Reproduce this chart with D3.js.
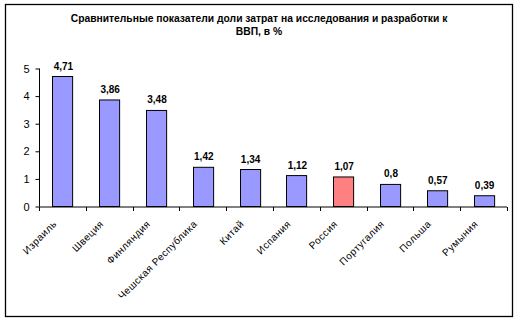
<!DOCTYPE html>
<html>
<head>
<meta charset="utf-8">
<script src="https://cdn.jsdelivr.net/npm/d3@7"></script>
<style>
  html, body { margin: 0; padding: 0; background: #fff; }
  svg { display: block; font-family: "Liberation Sans", Arial, sans-serif; }
</style>
</head>
<body>
<svg id="chart" width="520" height="322"></svg>
<script>
// R&D spending as a share of GDP, %
const countries = ["Израиль", "Швеция", "Финляндия", "Чешская Республика", "Китай",
                   "Испания", "Россия", "Португалия", "Польша", "Румыния"];
const values = [4.71, 3.86, 3.48, 1.42, 1.34, 1.12, 1.07, 0.8, 0.57, 0.39];
const valueLabels = ["4,71", "3,86", "3,48", "1,42", "1,34", "1,12", "1,07", "0,8", "0,57", "0,39"];
const yTicks = [0, 1, 2, 3, 4, 5];
const highlighted = "Россия";
const titleLines = ["Сравнительные показатели доли затрат на исследования и разработки к", "ВВП, в %"];

const svg = d3.select("#chart");

// outer frame
svg.append("rect")
  .attr("x", 5.5).attr("y", 4.5)
  .attr("width", 507).attr("height", 312)
  .attr("fill", "#fff").attr("stroke", "#000").attr("stroke-width", 1.3);

// title
svg.append("g").selectAll("text")
  .data(titleLines)
  .join("text")
  .attr("x", 259).attr("y", (d, i) => 21.5 + i * 13)
  .attr("text-anchor", "middle")
  .attr("font-size", 10.3).attr("font-weight", "bold")
  .attr("fill", "#000")
  .text(d => d);

const x = d3.scaleBand()
  .domain(countries)
  .range([39, 507])
  .paddingInner(0.57)
  .paddingOuter(0.285);

const y = d3.scaleLinear()
  .domain([0, 5])
  .range([206.5, 68.5]);

// bars
svg.append("g").selectAll("rect")
  .data(countries)
  .join("rect")
  .attr("x", d => Math.round(x(d)) + 0.5)
  .attr("y", (d, i) => y(values[i]))
  .attr("width", x.bandwidth())
  .attr("height", (d, i) => y(0) - y(values[i]))
  .attr("fill", d => d === highlighted ? "#FF8080" : "#9999FF")
  .attr("stroke", "#000").attr("stroke-width", 1);

// value labels
svg.append("g").selectAll("text")
  .data(countries)
  .join("text")
  .attr("x", d => x(d) + x.bandwidth() / 2 + 1)
  .attr("y", (d, i) => y(values[i]) - 7)
  .attr("text-anchor", "middle")
  .attr("font-size", 10).attr("font-weight", "bold")
  .attr("fill", "#000")
  .text((d, i) => valueLabels[i]);

// y axis
const yAxis = svg.append("g")
  .attr("transform", "translate(39.5,0)")
  .call(d3.axisLeft(y).tickValues(yTicks).tickSize(4).tickPadding(6).tickFormat(d3.format("d")));
yAxis.select(".domain").attr("d", `M0,${y(5)}V${y(0)}`);
yAxis.selectAll("text").attr("font-size", 11).attr("fill", "#000")
  .attr("font-family", "Liberation Sans, Arial, sans-serif");

// x axis: ticks at category boundaries
const boundaries = countries.map(d => x(d) - x.step() * x.paddingInner() / 2).concat([507]);
const xAxisG = svg.append("g").attr("transform", `translate(0,${y(0) + 0.5})`);
xAxisG.append("line")
  .attr("x1", 39).attr("x2", 507)
  .attr("stroke", "#000");
xAxisG.selectAll("line.tick")
  .data(boundaries)
  .join("line")
  .attr("class", "tick")
  .attr("x1", d => Math.round(d) + 0.5).attr("x2", d => Math.round(d) + 0.5)
  .attr("y1", 0).attr("y2", 4)
  .attr("stroke", "#000");

// rotated category labels
svg.append("g").selectAll("text")
  .data(countries)
  .join("text")
  .attr("transform", d => `translate(${x(d) + x.bandwidth() / 2 - 5},${y(0) + 18}) rotate(-45)`)
  .attr("text-anchor", "end")
  .attr("font-size", 10)
  .attr("letter-spacing", 0.5)
  .attr("fill", "#000")
  .text(d => d);
</script>
</body>
</html>
